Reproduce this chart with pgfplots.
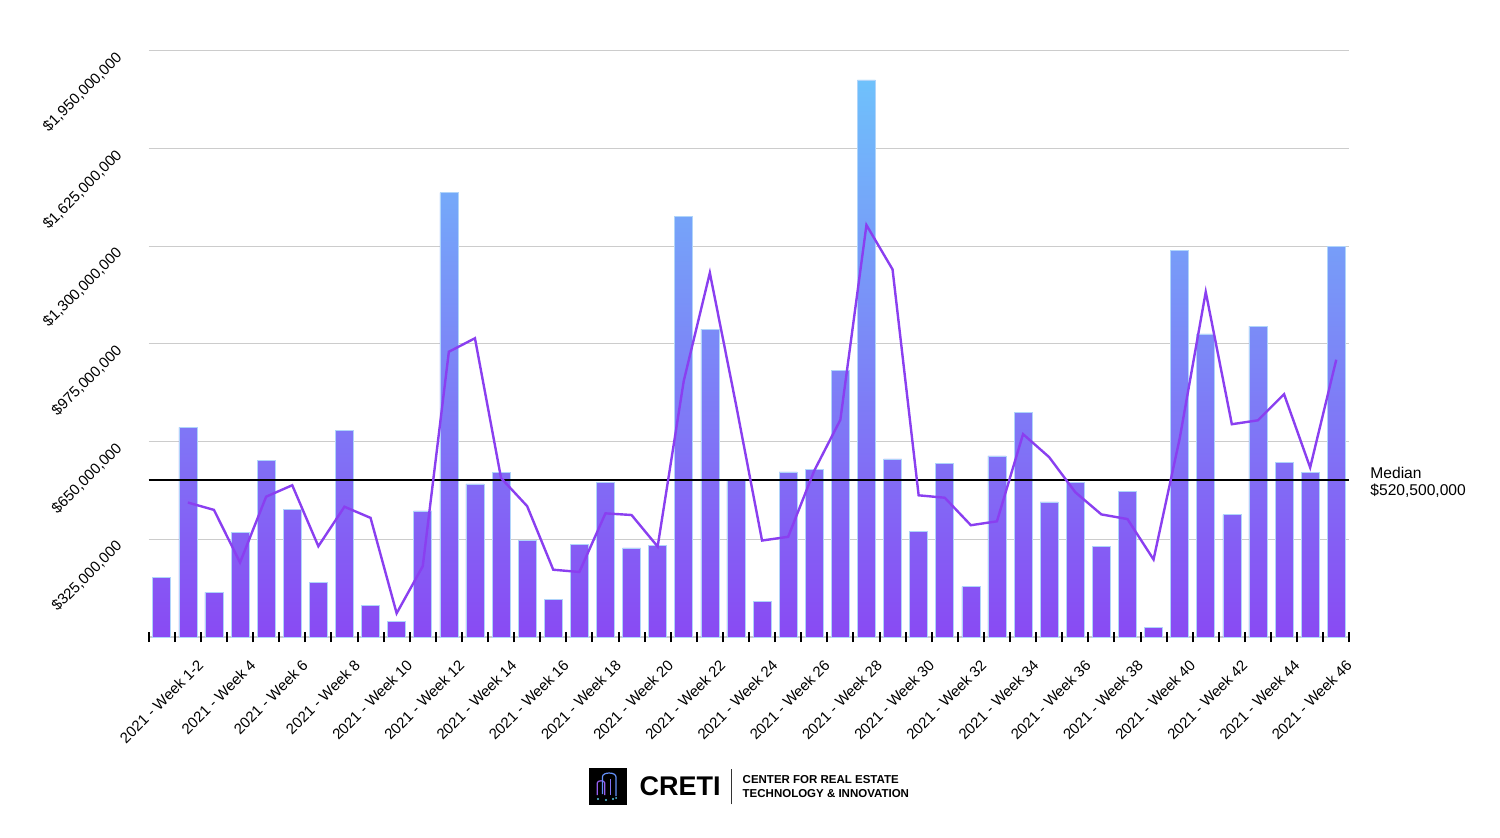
\documentclass[border=0pt]{standalone}
\usepackage{pgfplots}
\pgfplotsset{compat=1.18}
\usepackage{fontspec}
\setmainfont{Liberation Sans}
\definecolor{bartop}{RGB}{111,193,251}
\definecolor{barbot}{RGB}{137,74,243}
\definecolor{baredge}{RGB}{175,212,250}
\definecolor{linep}{RGB}{138,63,240}
\definecolor{gridc}{RGB}{204,204,204}
\definecolor{iconp}{RGB}{150,95,240}
\definecolor{iconb}{RGB}{100,145,250}
\definecolor{iconc}{RGB}{90,200,230}
\begin{document}
\begin{tikzpicture}
\path[use as bounding box] (0,0) rectangle (750pt,418.5pt);
\begin{axis}[
  at={(74.35pt,100.05pt)}, anchor=south west,
  scale only axis, width=600.3pt, height=293.1pt,
  xmin=0.5, xmax=46.5, ymin=0, ymax=1950,
  axis line style={draw=none},
  ymajorgrids, major grid style={gridc, line width=0.6pt},
  ytick={0,325,650,975,1300,1625,1950},
  yticklabels={{},{\$325,000,000},{\$650,000,000},{\$975,000,000},{\$1,300,000,000},{\$1,625,000,000},{\$1,950,000,000}},
  ytick style={draw=none},
  ytick pos=left,
  yticklabel style={rotate=45, anchor=east, inner sep=0pt, xshift=-9.9pt, yshift=6.9pt, font=\fontsize{7.5pt}{9pt}\selectfont},
  xtick={2.5,4.5,...,46.5},
  xticklabels={2021 - Week 1-2,2021 - Week 4,2021 - Week 6,2021 - Week 8,2021 - Week 10,2021 - Week 12,2021 - Week 14,2021 - Week 16,2021 - Week 18,2021 - Week 20,2021 - Week 22,2021 - Week 24,2021 - Week 26,2021 - Week 28,2021 - Week 30,2021 - Week 32,2021 - Week 34,2021 - Week 36,2021 - Week 38,2021 - Week 40,2021 - Week 42,2021 - Week 44,2021 - Week 46},
  minor xtick={0.5,1.5,...,46.5},
  xtick pos=left,
  tick align=center,
  major tick length=5.3pt, minor tick length=5.3pt,
  xtick style={black, line width=1pt},
  minor tick style={black, line width=1pt},
  xticklabel style={rotate=45, anchor=east, inner sep=0pt, xshift=-7.07pt, yshift=-7.07pt, font=\fontsize{7.5pt}{9pt}\selectfont},
  clip=false,
]
\addplot[ybar, bar width=0.69, draw=baredge, line width=0.3pt, top color=bartop, bottom color=barbot] coordinates {
(1,197) (2,697) (3,148) (4,347) (5,586) (6,423) (7,180) (8,686) (9,106) (10,51)
(11,419) (12,1478) (13,509) (14,548) (15,322) (16,125) (17,307) (18,515) (19,296) (20,305)
(21,1398) (22,1024) (23,524) (24,117) (25,549) (26,557) (27,887) (28,1853) (29,592) (30,350)
(31,576) (32,167) (33,602) (34,747) (35,449) (36,514) (37,301) (38,483) (39,32) (40,1287)
(41,1008) (42,407) (43,1034) (44,581) (45,546) (46,1298)
};
\addplot[black, line width=1pt, mark=none] coordinates {(0.5,520.5) (46.5,520.5)};
\addplot[linep, line width=1.2pt, mark=none, sharp plot] coordinates {
(2,447) (3,422.5) (4,247.5) (5,466.5) (6,504.5) (7,301.5) (8,433) (9,396) (10,78.5)
(11,235) (12,948.5) (13,993.5) (14,528.5) (15,435) (16,223.5) (17,216) (18,411) (19,405.5) (20,300.5)
(21,851.5) (22,1211) (23,774) (24,320.5) (25,333) (26,553) (27,722) (28,1370) (29,1222.5) (30,471)
(31,463) (32,371.5) (33,384.5) (34,674.5) (35,598) (36,481.5) (37,407.5) (38,392) (39,257.5) (40,659.5)
(41,1147.5) (42,707.5) (43,720.5) (44,807.5) (45,563.5) (46,922)
};
\end{axis}
% median annotation
\node[anchor=base west, inner sep=0pt, font=\fontsize{7.8pt}{9pt}\selectfont] at (685pt,179.35pt) {Median};
\node[anchor=base west, inner sep=0pt, font=\fontsize{7.8pt}{9pt}\selectfont] at (685pt,171pt) {\$520,500,000};
% logo
\fill[black] (294.65pt,16pt) rectangle (313.35pt,34.65pt);
\draw[iconp, line width=0.6pt] (298.6pt,21pt) -- (298.6pt,27pt) to[out=90,in=90] (302.4pt,27pt) -- (302.4pt,21pt);
\draw[iconb, line width=0.6pt] (301.2pt,21.5pt) -- (301.2pt,30pt) to[out=90,in=90] (308pt,30pt) -- (308pt,20.5pt);
\draw[iconp!60!iconb, line width=0.5pt] (305pt,21pt) -- (305pt,29pt);
\fill[iconc] (299pt,19pt) circle (0.6pt) (303pt,18.5pt) circle (0.6pt) (306.5pt,19pt) circle (0.6pt) (308pt,19.5pt) circle (0.5pt);
\node[anchor=base west, inner sep=0pt, font=\fontsize{13.5pt}{15pt}\selectfont\bfseries] at (319.65pt,20.65pt) {CRETI};
\draw[black!80, line width=0.5pt] (365.85pt,16.35pt) -- (365.85pt,34pt);
\node[anchor=base west, inner sep=0pt, font=\fontsize{5.75pt}{7pt}\selectfont\bfseries] at (371.15pt,26.85pt) {CENTER FOR REAL ESTATE};
\node[anchor=base west, inner sep=0pt, font=\fontsize{5.75pt}{7pt}\selectfont\bfseries] at (371.15pt,19.65pt) {TECHNOLOGY \& INNOVATION};
\end{tikzpicture}
\end{document}
